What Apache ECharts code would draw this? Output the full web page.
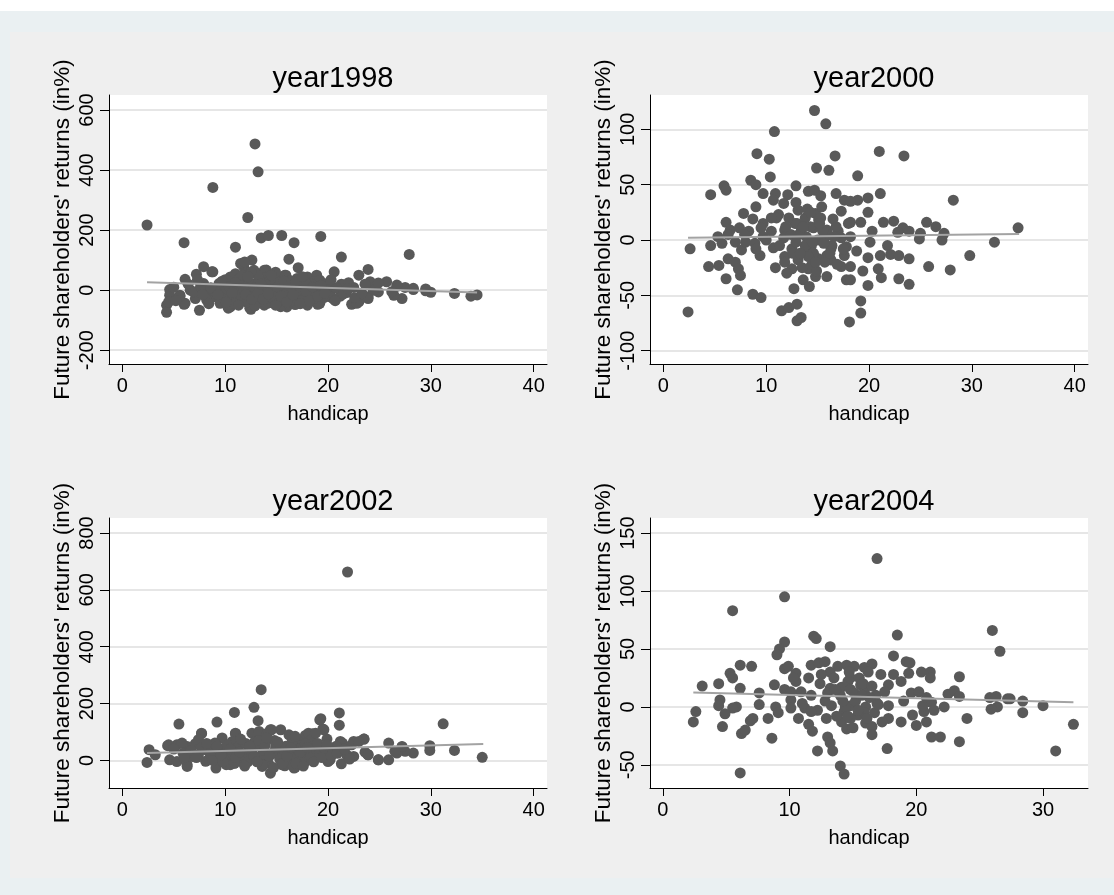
<!DOCTYPE html>
<html>
<head>
<meta charset="utf-8">
<script src="https://cdn.jsdelivr.net/npm/echarts@6/dist/echarts.min.js"></script>
<style>
  html, body { margin: 0; padding: 0; background: #fff; }
  #main { width: 1114px; height: 895px; }
</style>
</head>
<body>
<div id="main"></div>
<script>
// panel titles
const titles = ['year1998', 'year2000', 'year2002', 'year2004']

// tick labels per panel
const xTicks1998 = [0, 10, 20, 30, 40]
const xTicks2000 = [0, 10, 20, 30, 40]
const xTicks2002 = [0, 10, 20, 30, 40]
const xTicks2004 = [0, 10, 20, 30]
const yTicks1998 = [-200, 0, 200, 400, 600]
const yTicks2000 = [-100, -50, 0, 50, 100]
const yTicks2002 = [0, 200, 400, 600, 800]
const yTicks2004 = [-50, 0, 50, 100, 150]

// [handicap, return] points
const pts1998 = [
  [2.4,217],[6.0,158],[8.8,61],[8.8,342],[12.2,242],[12.9,487],[13.2,394],[11.0,143],[13.5,174],[14.2,182],
  [15.5,182],[16.7,158],[19.3,179],[21.3,110],[16.2,103],[17.1,75],[20.6,61],[23.0,50],[23.9,69],[27.9,119],
  [7.9,78],[7.2,53],[6.1,36],[12.6,100],[11.8,78],[14.0,67],[14.7,53],[15.9,50],[18.9,50],[17.9,39],
  [10.8,44],[10.2,28],[9.4,22],[4.6,2],[4.6,-17],[4.3,-50],[4.3,-74],[6.0,-47],[7.5,-67],[10.5,-56],
  [12.5,-64],[16.0,-56],[19.0,-47],[22.3,-47],[23.0,-39],[23.9,-22],[27.2,-28],[26.4,-17],[24.9,-6],[25.7,28],
  [26.7,13],[27.5,9],[28.3,2],[29.5,-2],[30.0,-7],[32.3,-11],[33.9,-20],[34.5,-16],[24.1,28],[24.4,0],
  [21.3,20],[22.5,9],[19.9,0],[20.5,-28],[20.2,-11],[8.9,-22],[8.2,0],[7.1,-28],[5.6,-17],[6.6,0],
  [7.9,22],[8.7,61],[4.5,-39],[6.1,-44],[5.6,-20],[6.9,-5],[8.2,-33],[9.5,17],[10.5,44],[11.0,55],
  [11.5,89],[11.9,94],[12.8,66],[13.8,66],[14.1,44],[15.8,50],[17.0,39],[18.0,44],[18.6,28],[9.5,-44],
  [10.3,-60],[11.1,-33],[12.4,-60],[13.1,-33],[14.1,-44],[15.4,-55],[17.0,-39],[18.0,-50],[18.8,-39],[11.5,-11],
  [12.4,11],[13.4,-5],[14.7,-17],[16.0,0],[17.3,-11],[18.3,0],[10.2,-5],[7.6,11],[24.9,24],[21.5,17],
  [19.9,22],[20.1,-17],[21.2,-20],[22.8,-44],[23.9,-28],[26.2,-5],[19.2,-44],[20.2,-22],[19.2,33],[28.3,6],
  [29.5,4],[26.7,17],[9.8,5],[10.6,-20],[11.2,15],[11.6,-25],[12.0,30],[12.3,-8],[12.7,20],[13.0,-20],
  [13.3,35],[13.6,5],[14.0,-28],[14.3,12],[14.6,-5],[15.0,25],[15.2,-35],[15.6,8],[16.3,-22],[16.6,18],
  [17.2,-30],[17.6,10],[18.0,-18],[18.4,20],[18.8,-8],[19.4,5],[12.1,-40],[13.8,-50],[15.0,-45],[16.8,-48],
  [11.4,40],[14.4,35],[16.3,32],[13.1,52],[15.3,40],[10.9,-45],[9.9,-30],[19.6,-25],[20.8,8],[21.8,-8],
  [22.0,25],[9.2,-10],[8.6,8],[10.0,35],[14.9,60],[12.5,60],[13.9,20],[15.8,-12],[17.8,25],[16.9,-5],
  [18.6,-28],[11.8,0],[13.3,-38],[12.9,-52],[14.8,-30],[16.5,-35],[9.3,-15],[9.7,30],[10.1,-40],[10.4,12],
  [10.7,-8],[11.0,25],[11.3,-50],[11.7,50],[12.0,-15],[12.2,45],[12.6,-30],[12.9,8],[13.2,-10],[13.5,20],
  [13.7,-30],[14.2,-12],[14.5,50],[14.9,-50],[15.1,10],[15.4,-20],[15.7,30],[16.0,-40],[16.2,15],[16.6,-15],
  [16.9,25],[17.3,-45],[17.5,45],[17.9,-5],[18.2,-35],[18.5,10],[19.0,-20],[19.3,15],[19.7,-10],[20.3,35],
  [20.7,-35],[21.5,-12],[21.9,5],[22.6,-25],[23.3,-10],[23.6,20],[8.4,-45],[7.8,-15],[7.3,35],[6.4,20],
  [5.2,-35],[5.0,10]
]
const pts2000 = [
  [14.7,117],[15.8,105],[10.8,98],[9.1,78],[10.3,73],[16.7,76],[14.9,65],[16.1,63],[10.4,57],[8.5,54],
  [9.0,50],[12.9,49],[5.9,49],[6.1,45],[4.6,41],[9.7,42],[10.9,42],[12.1,41],[14.1,44],[14.7,45],
  [15.3,40],[16.8,42],[17.6,36],[10.7,36],[11.7,33],[12.9,34],[13.1,27],[11.2,23],[14.8,24],[17.3,26],
  [7.8,24],[8.7,19],[6.1,16],[9.7,15],[11.0,20],[12.8,15],[13.8,20],[15.1,18],[16.5,19],[18.0,15],
  [6.5,9],[7.4,11],[8.3,8],[9.5,11],[10.5,8],[11.8,9],[13.4,8],[14.6,11],[15.9,9],[17.0,8],
  [5.3,3],[6.3,5],[7.9,5],[9.7,3],[11.7,2],[13.9,3],[15.7,2],[17.3,2],[2.6,-8],[4.6,-5],
  [5.7,-3],[7.0,-2],[8.9,-3],[10.7,-7],[12.5,-8],[14.4,-5],[16.3,-8],[17.8,-6],[7.6,-9],[9.4,-14],
  [11.8,-15],[13.8,-11],[15.9,-14],[6.3,-17],[4.4,-24],[5.4,-23],[7.0,-20],[7.3,-26],[7.5,-32],[6.1,-35],
  [7.2,-45],[8.7,-49],[9.5,-52],[10.9,-25],[11.8,-20],[12.5,-26],[13.1,-18],[14.4,-23],[15.1,-17],[16.3,-18],
  [17.3,-24],[15.9,-33],[14.1,-26],[13.6,-36],[14.2,-42],[14.8,-33],[12.7,-44],[11.5,-64],[12.2,-61],[13.0,-58],
  [13.0,-73],[13.4,-70],[2.4,-65],[18.1,-74],[17.8,-36],[17.6,-14],[21.0,80],[23.4,76],[18.9,58],[21.1,42],
  [28.2,36],[18.9,36],[19.9,38],[18.2,35],[19.9,25],[19.2,16],[18.2,16],[21.4,16],[22.4,17],[23.3,11],
  [25.6,16],[26.5,12],[20.3,8],[22.8,7],[23.9,8],[25.0,6],[27.3,6],[34.5,11],[18.2,3],[24.9,1],
  [27.1,0],[20.1,-2],[32.2,-2],[21.8,-5],[18.8,-10],[22.1,-13],[22.9,-14],[21.1,-14],[29.8,-14],[19.9,-16],
  [23.9,-17],[18.2,-24],[20.9,-26],[25.8,-24],[27.9,-27],[19.4,-28],[21.2,-34],[22.9,-35],[18.2,-36],[19.9,-41],
  [23.9,-40],[19.2,-55],[19.2,-66],[13.2,5],[13.8,-5],[14.3,12],[14.6,-12],[15.0,0],[15.3,20],[15.7,-20],
  [16.0,5],[14.0,28],[12.6,-12],[13.5,-25],[14.9,-28],[16.4,-5],[12.2,20],[11.3,-5],[10.5,20],[9.0,-8],
  [8.0,-2],[14.5,-2],[15.5,8],[16.8,12],[13.0,15],[12.4,5],[12.9,-2],[13.6,12],[14.1,-15],[14.3,25],
  [14.8,-20],[15.2,15],[15.6,-3],[16.2,-12],[16.6,3],[13.3,-12],[12.0,-30],[15.4,30],[11.9,12],[10.0,0],
  [9.0,30],[17.5,-8],[16.9,-22]
]
const pts2002 = [
  [21.9,663],[13.5,249],[12.8,187],[10.9,169],[21.1,167],[13.2,140],[19.3,147],[21.1,124],[19.5,111],[9.2,135],
  [5.5,128],[31.2,129],[7.7,94],[11.0,94],[14.4,108],[15.4,108],[18.5,94],[17.8,88],[23.5,75],[25.9,61],
  [27.2,47],[29.9,52],[29.9,35],[32.3,35],[35.0,11],[28.3,26],[27.5,32],[26.7,26],[25.9,2],[24.9,2],
  [23.9,20],[21.3,-12],[2.4,-7],[2.6,38],[3.2,20],[4.6,2],[6.3,-15],[5.3,-4],[4.4,52],[5.3,55],
  [6.3,44],[7.1,59],[9.1,-27],[10.1,-15],[10.9,-9],[11.8,-9],[14.4,-45],[15.8,-19],[16.8,-24],[17.7,-7],
  [20.0,-4],[22.5,14],[22.5,67],[21.2,67],[19.9,75],[4.5,55],[6.3,-21],[6.3,49],[7.7,96],[7.4,20],
  [8.1,38],[9.7,79],[8.7,49],[10.0,14],[11.0,96],[10.5,-15],[11.6,61],[12.6,96],[13.3,102],[14.1,96],
  [14.5,108],[16.2,90],[17.0,73],[18.1,96],[12.6,8],[11.6,-3],[13.6,-21],[15.5,-15],[16.7,-27],[17.5,-15],
  [14.9,44],[16.2,38],[17.5,55],[18.4,73],[8.1,-3],[6.8,14],[9.0,20],[10.7,38],[12.3,38],[13.6,20],
  [15.5,20],[17.2,14],[12.9,67],[10.7,67],[9.0,61],[7.4,73],[5.8,61],[19.2,143],[19.6,108],[18.8,96],
  [23.5,75],[27.2,49],[26.5,32],[24.9,2],[21.4,61],[22.3,55],[23.0,67],[20.2,2],[21.8,20],[20.1,29],
  [23.6,29],[23.9,20],[19.1,49],[18.8,14],[8.5,25],[9.5,35],[10.3,5],[10.7,25],[11.2,45],[11.8,15],
  [12.2,-5],[12.6,30],[13.0,50],[13.4,10],[13.8,35],[14.2,-10],[14.6,25],[15.0,45],[15.3,5],[15.8,30],
  [16.2,-5],[16.6,20],[17.0,40],[17.4,5],[17.8,28],[18.3,15],[18.8,42],[19.2,25],[19.7,40],[20.5,30],
  [12.0,60],[14.8,70],[16.5,65],[13.6,-15],[10.9,-10],[9.4,5],[15.9,50],[17.8,58],[11.5,75],[19.0,60],
  [20.8,50],[5.0,40],[5.9,25],[6.7,35],[7.2,10],[7.7,45],[8.2,60],[8.8,0],[9.2,50],[9.8,-5],
  [10.2,55],[10.5,40],[11.0,10],[11.4,30],[11.9,-20],[12.4,50],[12.8,15],[13.1,-5],[13.3,70],[13.9,55],
  [14.3,15],[14.7,-25],[15.1,65],[15.6,-10],[16.0,15],[16.4,45],[16.9,-10],[17.3,30],[17.6,-20],[18.0,45],
  [18.6,-5],[19.4,10],[19.9,55],[20.3,15],[20.9,25],[21.6,40],[22.1,5],[9.6,20],[14.0,80],[16.8,85],
  [6.0,10]
]
const pts2004 = [
  [9.6,95],[5.5,83],[11.9,61],[12.1,59],[13.2,52],[9.6,56],[9.2,50],[9.0,45],[6.1,36],[7.0,35],
  [9.6,33],[9.9,35],[5.3,29],[5.5,25],[3.1,18],[4.4,20],[6.1,16],[8.8,19],[9.6,15],[10.5,29],
  [10.5,22],[11.7,36],[12.3,38],[12.8,39],[13.2,30],[13.8,35],[14.5,36],[11.5,25],[12.4,20],[13.2,16],
  [14.1,17],[14.6,22],[10.9,13],[11.7,10],[7.6,12],[4.5,6],[4.4,1],[5.8,0],[5.5,-1],[2.6,-4],
  [2.4,-13],[4.9,-6],[4.7,-17],[7.6,2],[8.3,-10],[8.9,0],[9.1,-5],[10.1,6],[10.1,-1],[10.7,-10],
  [11.5,-15],[11.8,-21],[12.9,-10],[13.0,-26],[13.2,-31],[13.4,-38],[12.2,-38],[14.0,-51],[14.3,-58],[6.1,-57],
  [8.6,-27],[6.2,-23],[6.5,-20],[6.9,-12],[7.1,-10],[11.2,-1],[12.2,-3],[13.3,1],[14.3,-4],[14.1,-13],
  [14.5,-19],[11.7,-4],[10.1,13],[16.9,128],[26.0,66],[26.6,48],[18.5,62],[18.2,44],[19.2,39],[19.5,38],
  [16.5,37],[15.9,34],[15.1,35],[19.4,29],[20.4,30],[21.1,30],[21.1,25],[23.4,26],[18.2,28],[18.8,22],
  [17.8,19],[17.5,13],[16.8,10],[15.6,19],[14.8,25],[15.9,13],[19.6,12],[20.2,13],[22.5,11],[23.0,14],
  [23.4,9],[21.2,4],[22.2,0],[25.8,8],[26.3,9],[27.2,7],[27.4,7],[28.4,5],[30.0,1],[26.4,0],
  [25.9,-2],[28.4,-5],[17.8,1],[16.9,3],[16.0,0],[14.8,1],[15.4,-7],[14.8,-10],[19.7,-7],[20.6,-4],
  [21.4,-3],[20.5,1],[17.8,-10],[17.3,-13],[18.8,-13],[20.0,-16],[20.8,-13],[16.0,-14],[16.5,-17],[16.5,-24],
  [24.0,-10],[21.2,-26],[21.9,-26],[23.4,-30],[17.7,-36],[31.0,-38],[32.4,-15],[14.0,10],[14.4,0],[14.8,15],
  [15.2,5],[15.5,25],[15.9,-5],[16.3,8],[13.7,-8],[14.6,-8],[15.8,20],[16.2,30],[13.5,25],[12.8,5],
  [15.0,-18],[16.7,-5],[13.0,12],[13.6,15],[14.2,5],[14.7,30],[15.1,12],[15.4,-3],[15.7,10],[16.1,-10],
  [16.5,18],[12.5,28],[11.0,3],[10.3,25],[17.2,28],[17.0,2],[19.0,5],[20.8,8]
]

// fitted lines, end points
const fit1998 = [[2.4, 26], [34.5, -8]]
const fit2000 = [[2.4, 2], [34.6, 5.5]]
const fit2002 = [[2.4, 26], [35.1, 58]]
const fit2004 = [[2.4, 12.5], [32.4, 4]]

const panels = [
  { pts: pts1998, fit: fit1998, xt: xTicks1998, yt: yTicks1998, xr: [-1.3, 41.3], yr: [-246, 650], grid: [109, 95, 438, 269] },
  { pts: pts2000, fit: fit2000, xt: xTicks2000, yt: yTicks2000, xr: [-1.3, 41.3], yr: [-112, 131], grid: [650, 95, 438, 269] },
  { pts: pts2002, fit: fit2002, xt: xTicks2002, yt: yTicks2002, xr: [-1.3, 41.3], yr: [-97, 853], grid: [109, 518, 438, 270] },
  { pts: pts2004, fit: fit2004, xt: xTicks2004, yt: yTicks2004, xr: [-1.02, 33.55], yr: [-70, 163], grid: [650, 518, 438, 270] }
]

const font = 'Liberation Sans, Arial, sans-serif'
const chart = echarts.init(document.getElementById('main'))

const option = {
  animation: false,
  textStyle: { fontFamily: font },
  graphic: [
    { type: 'rect', z: -10, shape: { x: 0, y: 11, width: 1114, height: 884 }, style: { fill: '#eaf0f2' } },
    { type: 'rect', z: -9, shape: { x: 10, y: 32, width: 1104, height: 846 }, style: { fill: '#efefef' } }
  ],
  title: [],
  grid: [],
  xAxis: [],
  yAxis: [],
  series: []
}

panels.forEach((p, i) => {
  const [gl, gt, gw, gh] = p.grid
  option.title.push({
    text: titles[i],
    left: gl + gw / 2,
    top: gt - 36,
    textAlign: 'center',
    textStyle: { fontFamily: font, fontSize: 29, fontWeight: 'normal', color: '#000' }
  })
  option.grid.push({
    left: gl, top: gt, width: gw, height: gh,
    show: true, backgroundColor: '#fff', borderWidth: 0
  })
  option.xAxis.push({
    type: 'value', gridIndex: i, min: p.xr[0], max: p.xr[1],
    name: 'handicap', nameLocation: 'middle', nameGap: 40,
    nameTextStyle: { fontFamily: font, fontSize: 20, color: '#000' },
    axisLine: { show: true, onZero: false, lineStyle: { color: '#000', width: 1 } },
    axisTick: { show: true, length: 8, customValues: p.xt, lineStyle: { color: '#000' } },
    axisLabel: { customValues: p.xt, margin: 12, fontSize: 20, color: '#000', fontFamily: font },
    splitLine: { show: false }
  })
  option.yAxis.push({
    type: 'value', gridIndex: i, min: p.yr[0], max: p.yr[1],
    name: "Future shareholders' returns (in%)", nameLocation: 'middle', nameGap: 35,
    nameTextStyle: { fontFamily: font, fontSize: 22.5, color: '#000' },
    axisLine: { show: true, onZero: false, lineStyle: { color: '#000', width: 1 } },
    axisTick: { show: true, length: 9, customValues: p.yt, lineStyle: { color: '#000' } },
    axisLabel: { customValues: p.yt, rotate: 90, margin: 12, fontSize: 20, color: '#000', fontFamily: font },
    splitLine: { show: true, lineStyle: { color: '#e6e6e6', width: 2 } }
  })
  option.series.push({
    type: 'scatter', xAxisIndex: i, yAxisIndex: i,
    data: p.pts, symbol: 'circle', symbolSize: 11,
    itemStyle: { color: '#595959', opacity: 1 },
    z: 2
  })
  option.series.push({
    type: 'line', xAxisIndex: i, yAxisIndex: i,
    data: p.fit, showSymbol: false, symbol: 'none',
    lineStyle: { color: '#a3a3a3', width: 2 },
    z: 3
  })
})

chart.setOption(option)
</script>
</body>
</html>
